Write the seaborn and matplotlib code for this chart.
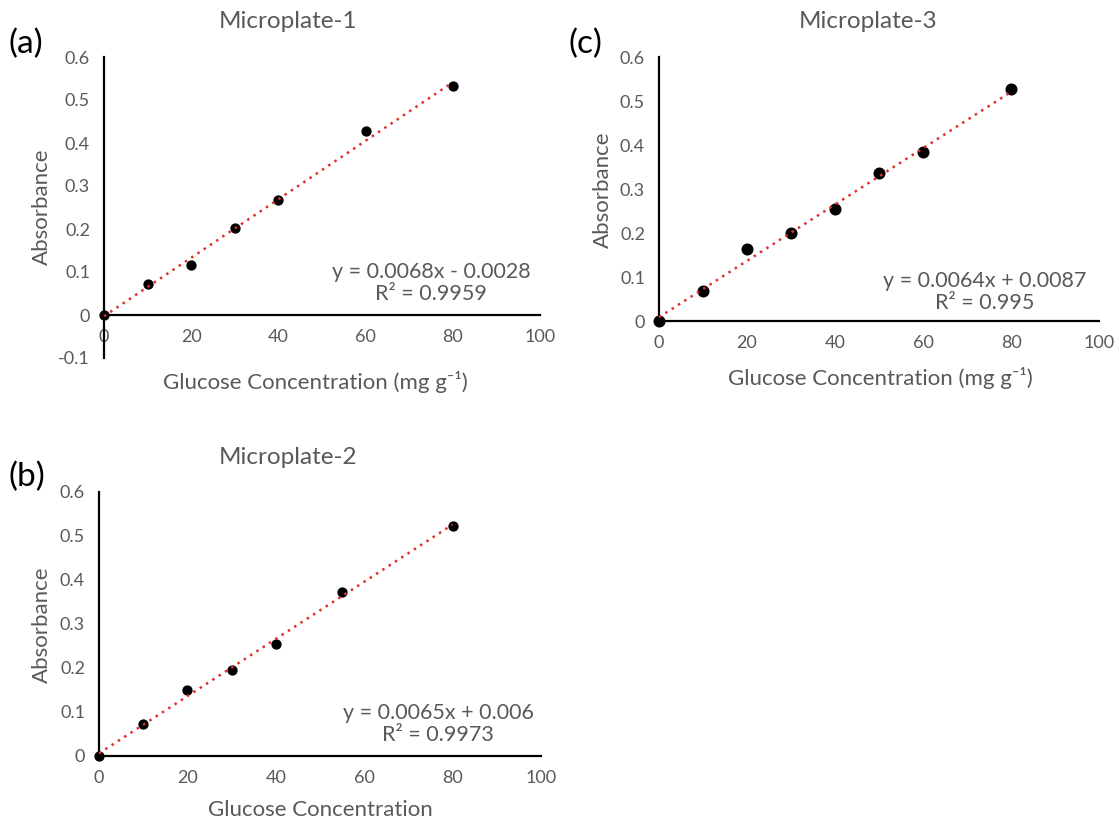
import numpy as np
import pandas as pd
import matplotlib
matplotlib.use("Agg")
import matplotlib.pyplot as plt
import seaborn as sns

# ---- data ----
conc_1 = [0, 10, 20, 30, 40, 60, 80]
abs_1 = [0.0, 0.073, 0.116, 0.203, 0.267, 0.427, 0.532]
conc_2 = [0, 10, 20, 30, 40, 55, 80]
abs_2 = [0.0, 0.072, 0.150, 0.196, 0.255, 0.372, 0.523]
conc_3 = [0, 10, 20, 30, 40, 50, 60, 80]
abs_3 = [0.0, 0.069, 0.163, 0.200, 0.255, 0.337, 0.385, 0.527]

slopes = [0.0068, 0.0065, 0.0064]
intercepts = [-0.0028, 0.006, 0.0087]
equations = ["y = 0.0068x - 0.0028\nR² = 0.9959",
             "y = 0.0065x + 0.006\nR² = 0.9973",
             "y = 0.0064x + 0.0087\nR² = 0.995"]
titles = ["Microplate-1", "Microplate-2", "Microplate-3"]
panel_labels = ["(a)", "(b)", "(c)"]
xlabels = ["Glucose Concentration (mg g⁻¹)", "Glucose Concentration",
           "Glucose Concentration (mg g⁻¹)"]
ylabel = "Absorbance"
x_ticks = [0, 20, 40, 60, 80, 100]

sns.set_style("white")
plt.rcParams["font.family"] = ["Lato", "DejaVu Sans"]

GRAY = "#595959"
W, H = 1119, 827
fig = plt.figure(figsize=(W / 100, H / 100), dpi=100)


def px_rect(left, right, top, bottom):
    return [left / W, 1 - bottom / H, (right - left) / W, (bottom - top) / H]


panels = [
    dict(x=conc_1, y=abs_1, rect=px_rect(104, 540, 57, 358), ylim=(-0.1, 0.6),
         title_xy=(288, 22), lab_xy=(8, 44), ylab_xy=(42, 207), xlab_xy=(315, 382),
         eq_xy=(431, 283), ms=55),
    dict(x=conc_2, y=abs_2, rect=px_rect(99, 541, 492, 756), ylim=(0, 0.6),
         title_xy=(288, 457), lab_xy=(8, 477), ylab_xy=(42, 625), xlab_xy=(320, 810),
         eq_xy=(438, 724), ms=55),
    dict(x=conc_3, y=abs_3, rect=px_rect(659, 1099, 57, 321), ylim=(0, 0.6),
         title_xy=(868, 22), lab_xy=(568, 44), ylab_xy=(603, 190), xlab_xy=(880, 378),
         eq_xy=(985, 292), ms=75),
]

for i, p in enumerate(panels):
    ax = fig.add_axes(p["rect"])
    df = pd.DataFrame({"conc": p["x"], "abs": p["y"]})
    sns.scatterplot(data=df, x="conc", y="abs", ax=ax, color="black", s=p["ms"],
                    edgecolor="black", linewidth=0, zorder=3)
    xf = np.array([min(p["x"]), max(p["x"])])
    fit = pd.DataFrame({"conc": xf, "abs": slopes[i] * xf + intercepts[i]})
    sns.lineplot(data=fit, x="conc", y="abs", ax=ax, color="#E0302A",
                 linestyle=(0, (1, 2)), linewidth=1.8, zorder=4)
    ax.set_xlim(0, 100)
    ax.set_ylim(*p["ylim"])
    ax.set_xticks(x_ticks)
    yt = np.round(np.arange(p["ylim"][0], 0.6001, 0.1), 1)
    ax.set_yticks(yt)
    ax.set_yticklabels(["0" if v == 0 else f"{v:g}" for v in yt])
    ax.set_xlabel("")
    ax.set_ylabel("")
    for s in ["top", "right"]:
        ax.spines[s].set_visible(False)
    for s in ["left", "bottom"]:
        ax.spines[s].set_color("black")
        ax.spines[s].set_linewidth(1.6)
    ax.spines["bottom"].set_position(("data", 0))
    ax.tick_params(axis="both", direction="out", length=5, width=1.2, color="black",
                   labelcolor=GRAY, labelsize=13, pad=5)
    ax.set_facecolor("none")
    for c in ax.collections + ax.lines:
        c.set_clip_on(False)

    tx, ty = p["title_xy"]
    fig.text(tx / W, 1 - ty / H, titles[i], ha="center", va="center", fontsize=17.5, color=GRAY)
    lx, ly = p["lab_xy"]
    fig.text(lx / W, 1 - ly / H, panel_labels[i], ha="left", va="center", fontsize=24, color="black")
    yx, yy = p["ylab_xy"]
    fig.text(yx / W, 1 - yy / H, ylabel, ha="center", va="center", rotation=90,
             fontsize=16, color=GRAY)
    xx, xy = p["xlab_xy"]
    fig.text(xx / W, 1 - xy / H, xlabels[i], ha="center", va="center", fontsize=16, color=GRAY)
    ex, ey = p["eq_xy"]
    fig.text(ex / W, 1 - ey / H, equations[i], ha="center", va="center", fontsize=15.5,
             color=GRAY, multialignment="center", linespacing=1.15)

fig.savefig("out.png", dpi=100, facecolor="white")
